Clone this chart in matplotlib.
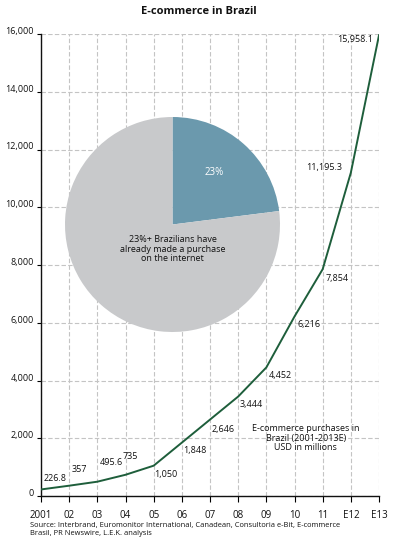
import numpy as np
import matplotlib.pyplot as plt

plt.rcParams['font.family'] = ['Open Sans', 'DejaVu Sans']

# ----------------------------------------------------------------------
# Data
# ----------------------------------------------------------------------
years = ['2001', '02', '03', '04', '05', '06', '07', '08', '09', '10', '11', 'E12', 'E13']
sales = [226.8, 357, 495.6, 735, 1050, 1848, 2646, 3444, 4452, 6216, 7854, 11195.3, 15958.1]
value_labels = ['226.8', '357', '495.6', '735', '1,050', '1,848', '2,646', '3,444',
                '4,452', '6,216', '7,854', '11,195.3', '15,958.1']
y_ticks = [0, 2000, 4000, 6000, 8000, 10000, 12000, 14000, 16000]

pie_shares = [23, 77]
pie_colors = ['#6b99ad', '#c8c9cb']

# label offsets in points (dx, dy) and alignment
label_offsets = [
    (2, 8, 'left'), (2, 12, 'left'), (2, 14, 'left'), (-2, 13, 'left'),
    (0, -6, 'left'), (1, -6, 'left'), (1, -7, 'left'), (1, -6, 'left'),
    (2, -6, 'left'), (2, -6, 'left'), (2, -7, 'left'), (-6, 4, 'right'),
    (-4, -3, 'right'),
]

fig = plt.figure(figsize=(3.98, 5.5), dpi=100)
ax = fig.add_axes([41 / 398, 1 - 496 / 550, 338 / 398, 462 / 550])

x = np.arange(len(years))
ax.plot(x, sales, color='#1e5e3b', lw=1.4, zorder=3)

for xi, yi, lab, (dx, dy, ha) in zip(x, sales, value_labels, label_offsets):
    ax.annotate(lab, (xi, yi), xytext=(dx, dy), textcoords='offset points',
                ha=ha, va='center', fontsize=6.5, color='#111111', zorder=4)

ax.set_xlim(0, len(years) - 1)
ax.set_ylim(0, 16000)
ax.set_xticks(x)
ax.set_xticklabels(years, fontsize=7, color='#111111')
ax.set_yticks(y_ticks)
ax.set_yticklabels([f'{v:,}' for v in y_ticks], fontsize=6.5, color='#111111')
ax.tick_params(axis='x', length=4, width=0.8, pad=6)
ax.tick_params(axis='y', length=3, width=0.8, pad=2)
for t in ax.get_yticklabels():
    t.set_verticalalignment('baseline')

ax.grid(True, color='#c4c4c4', lw=0.8, linestyle=(0, (4, 2)))
ax.set_axisbelow(True)
for side in ['top', 'right']:
    ax.spines[side].set_visible(False)
for side in ['left', 'bottom']:
    ax.spines[side].set_linewidth(1.0)
    ax.spines[side].set_color('#111111')

ax.text(9.4, 2000, 'E-commerce purchases in\nBrazil (2001-2013E)\nUSD in millions',
        ha='center', va='center', fontsize=6.5, color='#111111', linespacing=1.1)

fig.text(0.5, 1 - 11 / 550, 'E-commerce in Brazil', ha='center', va='center',
         fontsize=8, fontweight='bold', color='#111111')
fig.text(30 / 398, 1 - 522 / 550,
         'Source: Interbrand, Euromonitor International, Canadean, Consultoria e-Bit, E-commerce\n'
         'Brasil, PR Newswire, L.E.K. analysis',
         ha='left', va='top', fontsize=5.4, color='#111111', linespacing=1.25)

# ----------------------------------------------------------------------
# Inset pie
# ----------------------------------------------------------------------
r = 107.5
cx, cy = 172.5, 224.5
pax = fig.add_axes([(cx - r) / 398, 1 - (cy + r) / 550, 2 * r / 398, 2 * r / 550])
pax.pie(pie_shares, colors=pie_colors, startangle=90, counterclock=False,
        wedgeprops=dict(linewidth=0))
pax.set_xlim(-1, 1)
pax.set_ylim(-1, 1)
pax.axis('off')
pax.text(0.39, 0.48, '23%', color='white', ha='center', va='center', fontsize=7)
pax.text(0.0, -0.23, '23%+ Brazilians have\nalready made a purchase\non the internet',
         color='#111111', ha='center', va='center', fontsize=6.5, linespacing=1.1)

fig.savefig('out.png', dpi=100)
